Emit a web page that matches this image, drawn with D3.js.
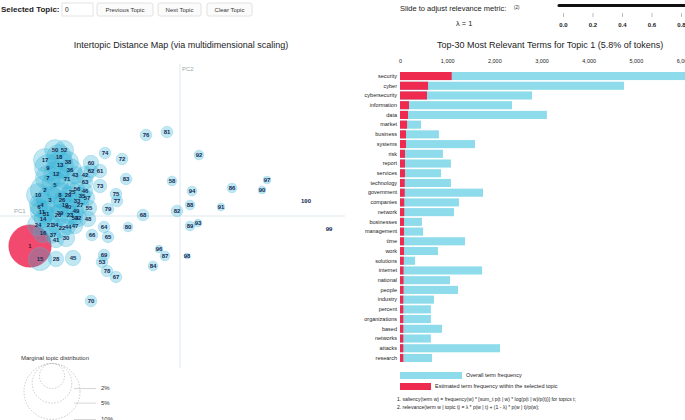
<!DOCTYPE html>
<html>
<head>
<meta charset="utf-8">
<script src="https://cdn.jsdelivr.net/npm/d3@7"></script>
<style>
  html, body { margin: 0; padding: 0; background: #fff; }
  svg { display: block; font-family: "Liberation Sans", Arial, sans-serif; }
</style>
</head>
<body>
<svg id="chart" width="685" height="420"></svg>
<script>
// ---------------- DATA ----------------
// Topics: id, PC1, PC2, marginal share (% of tokens)
const topicIds = [1,2,3,4,5,6,7,8,9,10,11,12,13,14,15,16,17,18,19,20,21,22,23,24,25,26,27,28,29,30,31,32,33,34,35,36,37,38,39,40,41,42,43,44,45,46,47,48,49,50,52,53,54,55,56,57,58,60,61,62,63,64,65,66,67,68,69,70,71,72,73,74,75,76,77,78,79,80,81,82,83,84,86,87,88,89,90,91,92,93,94,96,97,98,99,100];
const topicPC1 = [-0.300,-0.270,-0.260,-0.276,-0.250,-0.282,-0.264,-0.240,-0.264,-0.284,-0.276,-0.248,-0.240,-0.274,-0.280,-0.274,-0.270,-0.242,-0.230,-0.244,-0.260,-0.236,-0.220,-0.284,-0.216,-0.236,-0.200,-0.248,-0.224,-0.228,-0.268,-0.204,-0.206,-0.250,-0.196,-0.220,-0.254,-0.224,-0.240,-0.224,-0.248,-0.190,-0.210,-0.224,-0.214,-0.190,-0.210,-0.184,-0.208,-0.250,-0.232,-0.156,-0.210,-0.182,-0.206,-0.186,-0.016,-0.178,-0.160,-0.178,-0.190,-0.152,-0.144,-0.176,-0.128,-0.074,-0.152,-0.178,-0.226,-0.116,-0.160,-0.150,-0.128,-0.068,-0.126,-0.146,-0.144,-0.104,-0.026,-0.006,-0.108,-0.054,0.104,-0.030,0.020,0.020,0.164,0.082,0.038,0.036,0.024,-0.042,0.174,0.014,0.298,0.252];
const topicPC2 = [-0.060,0.052,0.032,0.022,0.062,0.018,0.076,0.042,0.096,0.042,0.008,0.084,0.102,-0.006,-0.086,-0.034,0.112,0.118,0.022,0.002,-0.018,-0.024,0.002,-0.018,0.048,0.032,0.022,-0.086,0.042,-0.044,0.004,-0.004,0.030,-0.018,0.040,0.092,-0.038,0.108,0.006,0.018,-0.048,0.082,0.082,-0.022,-0.084,0.050,-0.020,-0.006,0.010,0.132,0.132,-0.092,-0.004,0.016,0.054,0.036,0.070,0.106,0.090,0.090,0.068,-0.022,-0.042,-0.038,-0.122,0.002,-0.078,-0.170,0.074,0.114,0.060,0.126,0.044,0.162,0.030,-0.110,0.014,-0.022,0.168,0.010,0.074,-0.100,0.056,-0.080,0.022,-0.020,0.052,0.018,0.122,-0.014,0.050,-0.066,0.072,-0.080,-0.026,0.030];
const topicShare = [5.8,2.7,2.3,2.0,2.3,0.96,2.0,2.0,2.3,1.7,1.7,2.0,2.3,0.96,1.7,1.2,1.7,2.0,1.7,1.4,1.4,1.2,1.2,1.4,1.2,0.96,0.96,0.76,0.96,0.96,0.96,0.96,0.76,0.76,0.96,1.7,0.76,1.4,0.96,0.96,0.76,0.96,0.96,0.76,0.76,0.76,0.76,0.76,0.76,1.4,1.2,0.43,0.76,0.76,0.76,0.76,0.30,0.76,0.58,0.58,0.76,0.43,0.43,0.43,0.43,0.43,0.43,0.43,1.4,0.43,0.58,0.43,0.43,0.43,0.43,0.43,0.43,0.30,0.43,0.43,0.43,0.30,0.30,0.30,0.30,0.30,0.19,0.19,0.30,0.19,0.30,0.19,0.19,0.11,0.012,0.005];
const selectedTopic = 1;

// Top-30 terms for topic 1
const terms = ["security","cyber","cybersecurity","information","data","market","business","systems","risk","report","services","technology","government","companies","network","businesses","management","time","work","solutions","internet","national","people","industry","percent","organizations","based","networks","attacks","research"];
const overallFreq = [6050,4750,2800,2375,3115,445,825,1590,910,1080,870,1080,1760,1250,1145,465,490,1380,805,320,1740,1060,1230,720,655,655,890,655,2120,680];
const topicFreq = [1096,594,572,190,170,150,127,127,106,106,106,100,100,90,90,85,85,85,85,80,75,75,75,70,70,70,70,70,70,70];
const freqTicks = [0,1000,2000,3000,4000,5000,6000];

const sliderTicks = [0.0,0.2,0.4,0.6,0.8];
const legendShares = [2,5,10];

// ---------------- DRAW ----------------
const svg = d3.select("#chart");
const FONT = "\"Liberation Sans\", Arial, sans-serif";

// ---- top controls ----
const ctl = svg.append("g");
ctl.append("text").attr("x",1).attr("y",12).attr("font-size",8).attr("font-weight","bold").attr("fill","#222").text("Selected Topic:");
ctl.append("rect").attr("x",62).attr("y",3).attr("width",31).attr("height",13).attr("fill","#fff").attr("stroke","#e4e4e4");
ctl.append("text").attr("x",65).attr("y",12).attr("font-size",6.5).attr("fill","#222").text("0");
const buttons = [["Previous Topic",97,56],["Next Topic",158,43],["Clear Topic",207,45]];
buttons.forEach(b=>{
  ctl.append("rect").attr("x",b[1]).attr("y",3).attr("width",b[2]).attr("height",13).attr("rx",2).attr("fill","#fbfbfb").attr("stroke","#e2e2e2");
  ctl.append("text").attr("x",b[1]+b[2]/2).attr("y",12).attr("text-anchor","middle").attr("font-size",6).attr("fill","#333").text(b[0]);
});

// ---- slider ----
ctl.append("text").attr("x",400).attr("y",11).attr("font-size",7.5).attr("fill","#222").text("Slide to adjust relevance metric:");
ctl.append("text").attr("x",514).attr("y",9).attr("font-size",4.5).attr("fill","#222").text("(2)");
ctl.append("text").attr("x",456).attr("y",26).attr("font-size",7.5).attr("fill","#222").text("λ = 1");
const sx = d3.scaleLinear().domain([0,0.2]).range([563,592.5]);
ctl.append("line").attr("x1",559).attr("x2",685).attr("y1",5.5).attr("y2",5.5).attr("stroke","#111").attr("stroke-width",3).attr("stroke-linecap","round");
const sg = ctl.append("g").attr("transform","translate(0,15)")
  .call(d3.axisBottom(sx).tickValues(sliderTicks).tickFormat(d3.format(".1f")).tickSize(4));
sg.select(".domain").remove();
sg.selectAll("line").attr("stroke","#bbb").attr("transform","translate(0,-2)");
sg.selectAll("text").attr("font-size",6).attr("font-weight","bold").attr("fill","#222").attr("font-family",FONT).attr("dy","0.9em");

// ---- left: intertopic distance map ----
const x = d3.scaleLinear().domain([-0.36,0.33]).range([0,345]);
const y = d3.scaleLinear().domain([-0.33,0.33]).range([381,51]);
const r = d3.scaleSqrt().domain([0,10]).range([0,28]);

svg.append("text").attr("x",181).attr("y",47.5).attr("text-anchor","middle").attr("font-size",9).attr("fill","#222").text("Intertopic Distance Map (via multidimensional scaling)");

svg.append("line").attr("x1",x(0)).attr("x2",x(0)).attr("y1",64).attr("y2",368).attr("stroke","#dde9ee").attr("stroke-width",1);
svg.append("line").attr("x1",0).attr("x2",345).attr("y1",y(0)).attr("y2",y(0)).attr("stroke","#dde9ee").attr("stroke-width",1);
svg.append("text").attr("x",x(0)+2).attr("y",71).attr("font-size",6).attr("fill","#9aa").text("PC2");
svg.append("text").attr("x",14).attr("y",y(0)-3).attr("font-size",6).attr("fill","#9aa").text("PC1");

const topics = topicIds.map((id,i)=>({id, pc1:topicPC1[i], pc2:topicPC2[i], share:topicShare[i]}));
const cg = svg.append("g");
cg.selectAll("circle").data(topics).join("circle")
  .attr("cx",d=>x(d.pc1)).attr("cy",d=>y(d.pc2)).attr("r",d=>r(d.share))
  .attr("fill",d=>d.id===selectedTopic ? "#ee2a55" : "#2fb0d4")
  .attr("fill-opacity",d=>d.id===selectedTopic ? 0.85 : 0.3)
  .attr("stroke",d=>d.id===selectedTopic ? "#e22a50" : "#4fc0dc")
  .attr("stroke-opacity",0.5).attr("stroke-width",0.6);
cg.selectAll("text").data(topics).join("text")
  .attr("x",d=>x(d.pc1)).attr("y",d=>y(d.pc2)).attr("dy","0.35em")
  .attr("text-anchor","middle").attr("font-size",6).attr("font-weight","bold")
  .attr("fill",d=>d.id===selectedTopic ? "#5a1020" : "#142a52")
  .text(d=>d.id);

// marginal topic distribution legend
svg.append("text").attr("x",21).attr("y",360).attr("font-size",6).attr("fill","#333").text("Marginal topic distribution");
const lg = svg.append("g");
const legTop = 363.5, legCx = 52;
legendShares.forEach(s=>{
  const rr = r(s);
  lg.append("circle").attr("cx",legCx).attr("cy",legTop+rr).attr("r",rr)
    .attr("fill","none").attr("stroke","#aaa").attr("stroke-dasharray","1.5,1.5").attr("stroke-width",0.6);
  lg.append("line").attr("x1",legCx+22).attr("x2",96).attr("y1",legTop+2*rr).attr("y2",legTop+2*rr).attr("stroke","#bbb").attr("stroke-width",0.6);
  lg.append("text").attr("x",101).attr("y",legTop+2*rr).attr("dy","0.3em").attr("font-size",6).attr("fill","#333").text(s+"%");
});

// ---- right: bar chart ----
svg.append("text").attr("x",437).attr("y",47.5).attr("font-size",9).attr("fill","#222").text("Top-30 Most Relevant Terms for Topic 1 (5.8% of tokens)");
const bx = d3.scaleLinear().domain([0,6000]).range([400,683]);
const by = d3.scaleBand().domain(terms).range([72,362]).paddingInner(0.17);
const bars = terms.map((t,i)=>({term:t, overall:overallFreq[i], topic:topicFreq[i]}));

const ax = svg.append("g").attr("transform","translate(0,66)")
  .call(d3.axisTop(bx).tickValues(freqTicks).tickFormat(d3.format(",")).tickSize(0));
ax.select(".domain").remove();
ax.selectAll("text").attr("font-size",5.5).attr("fill","#222").attr("font-family",FONT);

const bg = svg.append("g");
bg.selectAll("rect.ov").data(bars).join("rect").attr("class","ov")
  .attr("x",bx(0)).attr("y",d=>by(d.term)).attr("height",by.bandwidth())
  .attr("width",d=>bx(d.overall)-bx(0)).attr("fill","#8ddbeb");
bg.selectAll("rect.tp").data(bars).join("rect").attr("class","tp")
  .attr("x",bx(0)).attr("y",d=>by(d.term)).attr("height",by.bandwidth())
  .attr("width",d=>bx(d.topic)-bx(0)).attr("fill","#ee2a4f");
const ay = svg.append("g").attr("transform","translate(400,0)")
  .call(d3.axisLeft(by).tickSize(0).tickPadding(3));
ay.select(".domain").remove();
ay.selectAll("text").attr("font-size",5.5).attr("fill","#222").attr("font-family",FONT);

// legend
svg.append("rect").attr("x",400).attr("y",372).attr("width",62).attr("height",7).attr("fill","#8ddbeb");
svg.append("text").attr("x",466).attr("y",375.5).attr("dy","0.35em").attr("font-size",5.5).attr("fill","#222").text("Overall term frequency");
svg.append("rect").attr("x",400).attr("y",383).attr("width",31).attr("height",7).attr("fill","#ee2a4f");
svg.append("text").attr("x",435).attr("y",386.5).attr("dy","0.35em").attr("font-size",5.5).attr("fill","#222").text("Estimated term frequency within the selected topic");
svg.append("text").attr("x",397).attr("y",401).attr("font-size",5).attr("fill","#222").text("1. saliency(term w) = frequency(w) * [sum_t p(t | w) * log(p(t | w)/p(t))] for topics t;");
svg.append("text").attr("x",397).attr("y",409).attr("font-size",5).attr("fill","#222").text("2. relevance(term w | topic t) = λ * p(w | t) + (1 - λ) * p(w | t)/p(w);");
</script>
</body>
</html>
